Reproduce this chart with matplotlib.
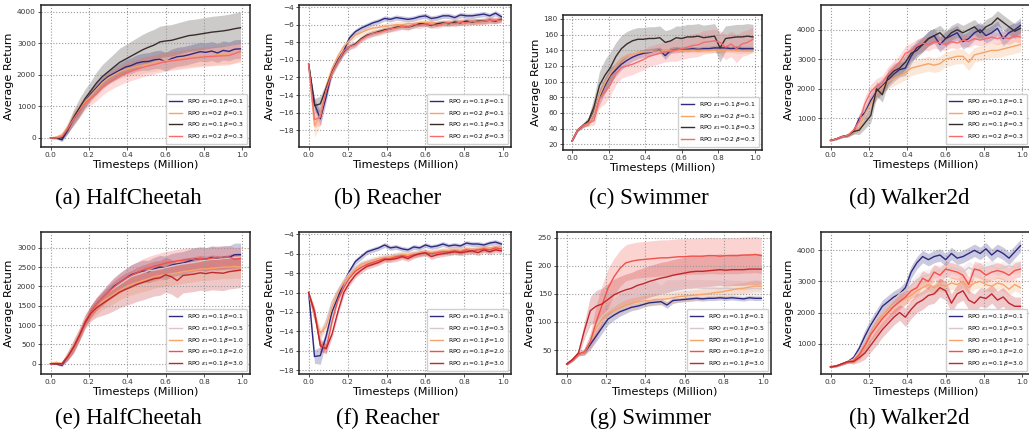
import numpy as np
import matplotlib
matplotlib.use('Agg')
import matplotlib.pyplot as plt

# timesteps (million), one point every 30k steps
steps = np.round(np.arange(34) * 0.03, 2)

labels_top = [r'RPO $\epsilon_1$=0.1 $\beta$=0.1', r'RPO $\epsilon_1$=0.2 $\beta$=0.1',
              r'RPO $\epsilon_1$=0.1 $\beta$=0.3', r'RPO $\epsilon_1$=0.2 $\beta$=0.3']
labels_bot = [r'RPO $\epsilon_1$=0.1 $\beta$=0.1', r'RPO $\epsilon_1$=0.1 $\beta$=0.5',
              r'RPO $\epsilon_1$=0.1 $\beta$=1.0', r'RPO $\epsilon_1$=0.1 $\beta$=2.0',
              r'RPO $\epsilon_1$=0.1 $\beta$=3.0']
colors_top = ['#2d2a80', '#f5a46a', '#3b2c2c', '#f86b6b']
colors_bot = ['#2d2a80', '#d9c6c9', '#f5a46a', '#f2504a', '#c0272d']

# (a) HalfCheetah
a_mean1 = [0, 0, -60, 250, 600, 850, 1150, 1400, 1600, 1800, 1950, 2050, 2150, 2250, 2300, 2380, 2420,
           2430, 2480, 2500, 2420, 2520, 2580, 2600, 2640, 2690, 2740, 2720, 2760, 2700, 2780, 2750, 2820, 2830]
a_mean2 = [0, 30, 100, 350, 650, 900, 1150, 1350, 1550, 1750, 1900, 2000, 2100, 2170, 2220, 2270, 2310,
           2350, 2380, 2420, 2450, 2470, 2500, 2520, 2550, 2570, 2580, 2600, 2610, 2640, 2650, 2660, 2680, 2700]
a_mean3 = [0, 0, 0, 300, 650, 950, 1250, 1500, 1750, 1950, 2100, 2250, 2400, 2500, 2600, 2700, 2800,
           2880, 2950, 3050, 3080, 3100, 3150, 3200, 3250, 3270, 3300, 3330, 3360, 3380, 3400, 3430, 3470, 3500]
a_mean4 = [0, 0, 50, 300, 600, 850, 1100, 1250, 1400, 1600, 1750, 1870, 1970, 2060, 2120, 2180, 2240,
           2290, 2330, 2380, 2420, 2450, 2470, 2490, 2520, 2540, 2560, 2580, 2590, 2600, 2610, 2620, 2680, 2750]
a_std1 = [20, 30, 60, 120, 150, 150, 150, 150, 170, 180, 200, 220, 230, 240, 250, 260, 270,
          280, 280, 290, 300, 300, 300, 300, 300, 300, 300, 300, 300, 300, 300, 300, 300, 300]
a_std2 = [20, 40, 80, 150, 200, 200, 200, 200, 200, 200, 200, 200, 220, 230, 240, 250, 260,
          260, 270, 270, 280, 280, 280, 280, 290, 290, 290, 300, 300, 300, 300, 300, 300, 300]
a_std3 = [20, 30, 50, 150, 250, 300, 300, 300, 350, 380, 400, 420, 450, 460, 470, 480, 490,
          500, 500, 500, 500, 500, 500, 500, 500, 500, 500, 500, 500, 500, 500, 500, 500, 500]
a_std4 = [20, 30, 60, 150, 200, 200, 200, 200, 220, 240, 260, 280, 290, 300, 300, 300, 300,
          300, 300, 300, 300, 300, 300, 300, 300, 300, 300, 300, 300, 300, 300, 300, 300, 300]

# (b) Reacher
b_mean1 = [-10.5, -15.0, -16.7, -14.2, -11.3, -10.0, -9.0, -7.5, -6.8, -6.4, -6.1, -5.8, -5.6, -5.3, -5.4, -5.2, -5.3,
           -5.4, -5.3, -5.1, -5.0, -5.3, -5.2, -5.0, -5.0, -5.2, -4.9, -5.0, -5.0, -4.9, -4.8, -5.0, -4.7, -5.1]
b_mean2 = [-10.5, -17.5, -16.3, -13.0, -11.0, -9.6, -8.5, -7.8, -7.2, -6.9, -6.6, -6.4, -6.3, -6.2, -6.1, -6.0, -6.0,
           -5.9, -5.9, -5.8, -5.8, -5.7, -5.9, -5.8, -5.7, -5.8, -5.6, -5.7, -5.6, -5.7, -5.6, -5.6, -5.5, -5.4]
b_mean3 = [-10.5, -15.2, -15.0, -13.2, -11.4, -10.2, -9.1, -8.5, -8.2, -7.6, -7.2, -7.0, -6.8, -6.6, -6.5, -6.3, -6.2,
           -6.3, -6.1, -5.9, -5.9, -6.1, -5.9, -5.8, -5.9, -5.7, -5.8, -5.6, -5.7, -5.6, -5.6, -5.5, -5.6, -5.4]
b_mean4 = [-10.5, -16.8, -16.5, -13.5, -11.5, -10.2, -9.0, -8.5, -8.3, -7.7, -7.3, -7.0, -6.9, -6.7, -6.5, -6.4, -6.2,
           -6.3, -6.0, -6.1, -5.9, -6.0, -6.1, -5.9, -5.8, -5.9, -5.7, -5.8, -5.6, -5.7, -5.6, -5.5, -5.5, -5.5]
b_std1 = [0.1, 0.6, 0.8, 0.6, 0.4, 0.4, 0.4, 0.4, 0.3, 0.3, 0.3, 0.3, 0.3, 0.3, 0.3, 0.3, 0.3,
          0.3, 0.3, 0.3, 0.3, 0.3, 0.3, 0.3, 0.3, 0.3, 0.3, 0.3, 0.3, 0.3, 0.3, 0.3, 0.3, 0.3]
b_std2 = [0.1, 1.3, 1.1, 0.6, 0.4, 0.4, 0.4, 0.4, 0.35, 0.35, 0.35, 0.35, 0.35, 0.35, 0.35, 0.35, 0.35,
          0.35, 0.35, 0.35, 0.35, 0.35, 0.35, 0.35, 0.35, 0.35, 0.35, 0.35, 0.35, 0.35, 0.35, 0.35, 0.35, 0.35]
b_std3 = [0.1, 0.8, 0.9, 0.6, 0.4, 0.4, 0.4, 0.3, 0.3, 0.3, 0.3, 0.3, 0.3, 0.3, 0.3, 0.3, 0.3,
          0.3, 0.3, 0.3, 0.3, 0.3, 0.3, 0.3, 0.3, 0.3, 0.3, 0.3, 0.3, 0.3, 0.3, 0.3, 0.3, 0.3]
b_std4 = [0.1, 0.9, 0.9, 0.6, 0.4, 0.4, 0.4, 0.4, 0.35, 0.35, 0.35, 0.35, 0.35, 0.35, 0.35, 0.35, 0.35,
          0.35, 0.35, 0.35, 0.35, 0.35, 0.35, 0.35, 0.35, 0.35, 0.35, 0.35, 0.35, 0.35, 0.35, 0.35, 0.35, 0.35]

# (c) Swimmer
c_mean1 = [24, 38, 44, 47, 62, 80, 95, 108, 115, 122, 127, 131, 134, 136, 137, 139, 140,
           133, 140, 141, 141, 141, 142, 141, 142, 142, 143, 143, 143, 142, 143, 142, 142, 142]
c_mean2 = [24, 38, 44, 46, 60, 82, 98, 110, 120, 128, 133, 135, 137, 138, 138, 139, 139,
           139, 140, 140, 140, 140, 140, 140, 140, 140, 140, 140, 140, 140, 139, 139, 139, 139]
c_mean3 = [24, 38, 44, 50, 68, 95, 108, 118, 132, 142, 148, 152, 154, 154, 155, 155, 156,
           150, 152, 156, 155, 157, 157, 158, 156, 157, 158, 143, 155, 156, 157, 157, 158, 157]
c_mean4 = [24, 38, 44, 47, 50, 78, 86, 96, 110, 118, 120, 122, 125, 128, 132, 134, 136,
           138, 139, 140, 142, 144, 146, 147, 150, 151, 152, 150, 144, 148, 142, 148, 150, 154]
c_std1 = [1, 2, 2, 3, 8, 10, 10, 10, 8, 7, 6, 5, 5, 5, 5, 4, 4, 5, 4, 4, 3, 3, 3, 3, 3, 3, 3, 3, 3, 3, 3, 3, 3, 3]
c_std2 = [1, 2, 2, 3, 6, 8, 8, 6, 5, 4, 3, 3, 3, 3, 3, 3, 3, 3, 3, 3, 3, 3, 3, 3, 3, 3, 3, 3, 3, 3, 3, 3, 3, 3]
c_std3 = [1, 2, 3, 5, 12, 18, 20, 20, 18, 17, 16, 15, 15, 15, 15, 15, 15,
          15, 15, 15, 16, 16, 16, 16, 16, 16, 16, 18, 16, 16, 16, 16, 16, 16]
c_std4 = [1, 2, 3, 4, 6, 12, 14, 14, 14, 14, 13, 13, 13, 13, 13, 13, 13,
          13, 13, 14, 14, 14, 15, 15, 15, 15, 15, 15, 16, 16, 18, 16, 16, 16]

# (d) Walker2d
d_mean1 = [250, 300, 380, 420, 550, 1000, 1200, 1600, 1900, 2100, 2300, 2500, 2650, 2700, 3100, 3400, 3500,
           3700, 3800, 3500, 3700, 3800, 3900, 3600, 3700, 3900, 4000, 3800, 3900, 4050, 3700, 3900, 4000, 4150]
d_mean2 = [250, 300, 380, 420, 520, 700, 1150, 1500, 1850, 2050, 2250, 2350, 2450, 2550, 2700, 2750, 2800,
           2850, 2800, 2850, 3000, 3050, 3100, 3100, 2900, 3150, 3200, 3250, 3300, 3300, 3350, 3400, 3450, 3500]
d_mean3 = [250, 300, 380, 420, 550, 600, 850, 1100, 2000, 1800, 2400, 2600, 2700, 2900, 3200, 3300, 3500,
           3700, 3800, 3900, 3700, 3900, 4000, 3900, 4000, 4100, 3900, 4100, 4200, 4400, 4250, 4100, 3950, 4050]
d_mean4 = [250, 300, 380, 420, 600, 900, 1500, 1900, 2100, 2200, 2500, 2700, 2900, 3200, 3300, 3450, 3550,
           3500, 3600, 3550, 3500, 3600, 3550, 3650, 3600, 3700, 3650, 3700, 3750, 3700, 3750, 3700, 3800, 3750]
d_std1 = [20, 30, 40, 50, 80, 150, 200, 250, 250, 250, 250, 250, 250, 250, 250, 250, 250,
          250, 250, 250, 250, 250, 250, 250, 250, 250, 250, 250, 250, 250, 250, 250, 250, 250]
d_std2 = [20, 30, 40, 50, 80, 150, 200, 250, 250, 250, 250, 250, 250, 250, 250, 250, 250,
          250, 250, 250, 250, 250, 250, 250, 280, 250, 250, 250, 250, 250, 250, 250, 250, 250]
d_std3 = [20, 30, 40, 50, 80, 150, 200, 250, 250, 250, 250, 250, 250, 250, 250, 250, 250,
          250, 250, 250, 250, 250, 250, 250, 250, 250, 250, 250, 250, 250, 250, 250, 250, 250]
d_std4 = [20, 30, 40, 60, 100, 200, 250, 250, 250, 250, 250, 250, 250, 250, 250, 230, 220,
          220, 220, 220, 200, 200, 200, 200, 200, 200, 200, 200, 200, 200, 200, 200, 200, 200]

# (e) HalfCheetah, beta sweep
e_mean1 = [0, -10, -40, 200, 450, 750, 1100, 1350, 1550, 1700, 1850, 2000, 2100, 2200, 2300, 2350, 2400,
           2380, 2450, 2500, 2480, 2550, 2580, 2600, 2650, 2700, 2720, 2700, 2750, 2720, 2750, 2750, 2820, 2820]
e_mean2 = [0, 20, 0, 250, 500, 800, 1150, 1350, 1550, 1700, 1850, 1950, 2050, 2150, 2250, 2300, 2350,
           2400, 2420, 2450, 2480, 2520, 2550, 2580, 2600, 2620, 2650, 2680, 2700, 2700, 2720, 2730, 2750, 2760]
e_mean3 = [0, 40, 0, 200, 450, 750, 1100, 1300, 1450, 1600, 1700, 1800, 1900, 1980, 2050, 2100, 2150,
           2200, 2250, 2280, 2300, 2330, 2350, 2380, 2400, 2420, 2450, 2450, 2470, 2480, 2500, 2500, 2520, 2500]
e_mean4 = [0, 0, 0, 200, 450, 750, 1100, 1350, 1550, 1700, 1850, 1980, 2100, 2200, 2280, 2350, 2420,
           2470, 2520, 2560, 2600, 2630, 2660, 2680, 2700, 2700, 2720, 2700, 2730, 2750, 2740, 2760, 2700, 2720]
e_mean5 = [0, 0, 0, 180, 420, 720, 1050, 1300, 1450, 1550, 1650, 1750, 1850, 1920, 1980, 2050, 2100,
           2150, 2200, 2220, 2300, 2250, 2150, 2280, 2300, 2320, 2350, 2330, 2360, 2350, 2340, 2380, 2400, 2420]
e_std1 = [10, 20, 40, 100, 150, 150, 150, 150, 150, 170, 200, 220, 240, 250, 260, 270, 280,
          290, 300, 300, 300, 300, 300, 300, 300, 300, 300, 300, 300, 300, 300, 300, 300, 300]
e_std2 = [10, 20, 40, 100, 150, 150, 150, 150, 160, 180, 200, 220, 240, 250, 260, 270, 280,
          290, 300, 300, 300, 300, 300, 300, 300, 300, 300, 300, 300, 300, 300, 300, 300, 300]
e_std3 = [10, 20, 40, 100, 150, 150, 150, 160, 180, 200, 220, 240, 250, 260, 270, 280, 290,
          300, 300, 300, 300, 300, 300, 300, 300, 300, 300, 300, 300, 300, 300, 300, 300, 300]
e_std4 = [10, 20, 40, 100, 150, 150, 150, 160, 180, 200, 220, 240, 250, 260, 270, 280, 290,
          300, 300, 300, 300, 300, 300, 300, 300, 300, 300, 300, 300, 300, 300, 300, 300, 300]
e_std5 = [10, 20, 40, 100, 150, 150, 150, 200, 250, 300, 350, 380, 400, 420, 430, 440, 450,
          450, 450, 450, 450, 450, 450, 450, 450, 450, 450, 450, 450, 450, 450, 450, 450, 450]

# (f) Reacher, beta sweep
f_mean1 = [-10.0, -16.6, -16.5, -14.5, -12.0, -10.5, -9.0, -7.8, -6.8, -6.3, -5.8, -5.6, -5.4, -5.1, -5.4, -5.3, -5.5,
           -5.6, -5.3, -5.4, -5.1, -5.3, -5.2, -5.0, -5.2, -5.1, -5.2, -4.9, -5.0, -5.0, -5.1, -4.9, -4.8, -5.0]
f_mean2 = [-10.0, -12.5, -14.5, -13.0, -11.0, -9.8, -8.8, -8.0, -7.4, -7.0, -6.8, -6.6, -6.5, -6.3, -6.3, -6.1, -6.0,
           -6.1, -5.9, -5.9, -5.8, -5.9, -5.8, -5.7, -5.7, -5.6, -5.7, -5.6, -5.6, -5.5, -5.5, -5.6, -5.4, -5.5]
f_mean3 = [-10.0, -12.5, -14.2, -13.5, -11.5, -10.0, -9.0, -8.2, -7.6, -7.1, -6.9, -6.7, -6.5, -6.4, -6.3, -6.2, -6.1,
           -6.1, -6.0, -5.9, -5.8, -5.9, -5.8, -5.7, -5.7, -5.6, -5.7, -5.5, -5.6, -5.5, -5.5, -5.4, -5.3, -5.4]
f_mean4 = [-10.0, -12.0, -15.3, -15.8, -13.0, -10.8, -9.5, -8.5, -7.8, -7.4, -7.1, -6.9, -6.7, -6.5, -6.5, -6.3, -6.2,
           -6.3, -6.1, -6.0, -5.9, -6.0, -5.9, -5.8, -5.8, -5.7, -5.8, -5.6, -5.7, -5.6, -5.5, -5.6, -5.4, -5.5]
f_mean5 = [-10.0, -12.0, -15.5, -15.8, -14.3, -12.0, -10.0, -9.0, -8.2, -7.7, -7.3, -7.1, -6.9, -6.6, -6.6, -6.5, -6.3,
           -6.5, -6.2, -6.0, -5.9, -6.3, -6.1, -6.0, -5.9, -5.8, -5.9, -5.8, -5.7, -5.9, -5.6, -5.8, -5.6, -5.7]
f_std1 = [0.1, 0.7, 0.9, 0.6, 0.4, 0.4, 0.4, 0.3, 0.3, 0.3, 0.25, 0.25, 0.25, 0.25, 0.25, 0.25, 0.25,
          0.25, 0.25, 0.25, 0.25, 0.25, 0.25, 0.25, 0.25, 0.25, 0.25, 0.25, 0.25, 0.25, 0.25, 0.25, 0.25, 0.25]
f_std2 = [0.1, 0.5, 0.6, 0.5, 0.4, 0.4, 0.35, 0.3, 0.3, 0.3, 0.3, 0.3, 0.3, 0.3, 0.3, 0.3, 0.3,
          0.3, 0.3, 0.3, 0.3, 0.3, 0.3, 0.3, 0.3, 0.3, 0.3, 0.3, 0.3, 0.3, 0.3, 0.3, 0.3, 0.3]
f_std3 = [0.1, 0.5, 0.6, 0.5, 0.4, 0.4, 0.35, 0.3, 0.3, 0.3, 0.3, 0.3, 0.3, 0.3, 0.3, 0.3, 0.3,
          0.3, 0.3, 0.3, 0.3, 0.3, 0.3, 0.3, 0.3, 0.3, 0.3, 0.3, 0.3, 0.3, 0.3, 0.3, 0.3, 0.3]
f_std4 = [0.1, 0.5, 0.6, 0.5, 0.4, 0.4, 0.35, 0.3, 0.3, 0.3, 0.3, 0.3, 0.3, 0.3, 0.3, 0.3, 0.3,
          0.3, 0.3, 0.3, 0.3, 0.3, 0.3, 0.3, 0.3, 0.3, 0.3, 0.3, 0.3, 0.3, 0.3, 0.3, 0.3, 0.3]
f_std5 = [0.1, 0.5, 0.6, 0.5, 0.4, 0.4, 0.35, 0.3, 0.3, 0.3, 0.3, 0.3, 0.3, 0.3, 0.3, 0.3, 0.3,
          0.3, 0.3, 0.3, 0.3, 0.3, 0.3, 0.3, 0.3, 0.3, 0.3, 0.3, 0.3, 0.3, 0.3, 0.3, 0.3, 0.3]

# (g) Swimmer, beta sweep
g_mean1 = [25, 33, 43, 45, 60, 75, 90, 105, 112, 118, 122, 126, 128, 131, 134, 135, 136,
           130, 138, 139, 140, 141, 142, 141, 142, 142, 143, 142, 143, 142, 141, 143, 142, 142]
g_mean2 = [25, 33, 43, 48, 70, 95, 110, 120, 128, 135, 140, 145, 150, 153, 156, 158, 150,
           160, 160, 160, 161, 160, 161, 160, 160, 160, 159, 160, 159, 159, 158, 159, 160, 159]
g_mean3 = [25, 33, 43, 45, 65, 90, 105, 115, 120, 125, 130, 133, 135, 137, 138, 140, 140,
           141, 143, 145, 146, 147, 148, 149, 150, 152, 153, 155, 157, 159, 160, 162, 164, 163]
g_mean4 = [25, 33, 43, 47, 65, 100, 130, 160, 180, 195, 205, 208, 210, 211, 212, 213, 214,
           214, 215, 216, 216, 217, 217, 217, 218, 218, 217, 218, 218, 218, 219, 219, 220, 218]
g_mean5 = [25, 33, 45, 85, 120, 128, 132, 140, 148, 153, 157, 160, 165, 168, 172, 175, 178,
           180, 183, 185, 187, 189, 190, 190, 191, 192, 193, 192, 193, 193, 193, 194, 194, 194]
g_std1 = [2, 3, 3, 4, 8, 10, 10, 10, 9, 8, 7, 6, 6, 5, 5, 5, 5, 6, 5, 4, 4, 4, 4, 4, 4, 4, 4, 4, 4, 4, 4, 4, 4, 4]
g_std2 = [2, 3, 3, 5, 10, 15, 15, 15, 15, 15, 15, 15, 15, 15, 15, 15, 15,
          15, 15, 15, 15, 15, 15, 15, 15, 15, 15, 15, 15, 15, 15, 15, 15, 15]
g_std3 = [2, 3, 3, 4, 8, 10, 10, 10, 10, 10, 10, 10, 10, 10, 10, 10, 10,
          10, 10, 10, 10, 10, 10, 10, 10, 10, 10, 10, 10, 10, 10, 10, 10, 10]
g_std4 = [2, 3, 4, 6, 15, 30, 35, 35, 33, 32, 32, 32, 32, 32, 32, 32, 32,
          32, 32, 32, 32, 32, 32, 32, 32, 32, 32, 32, 32, 32, 32, 32, 32, 32]
g_std5 = [2, 3, 5, 15, 25, 28, 28, 28, 28, 28, 28, 28, 28, 28, 28, 28, 28,
          28, 28, 28, 28, 28, 28, 28, 28, 28, 28, 28, 28, 28, 28, 28, 28, 28]

# (h) Walker2d, beta sweep
h_mean1 = [250, 280, 350, 420, 550, 850, 1250, 1600, 1900, 2200, 2350, 2500, 2600, 2800, 3300, 3600, 3800,
           3700, 3800, 3850, 3700, 3900, 3750, 3800, 3900, 4000, 3900, 4050, 3850, 4000, 3900, 3750, 3950, 4150]
h_mean2 = [250, 280, 350, 420, 500, 750, 1100, 1500, 1800, 2000, 2200, 2400, 2600, 2700, 2850, 3050, 3150,
           3200, 3300, 3350, 3300, 3450, 3400, 3300, 3450, 3350, 3400, 3450, 3500, 3400, 3450, 3500, 3450, 3500]
h_mean3 = [250, 280, 350, 420, 480, 650, 900, 1300, 1600, 1900, 2100, 2200, 2350, 2450, 2550, 2700, 2800,
           2900, 2800, 2900, 2850, 2950, 2900, 3000, 2800, 2950, 3000, 2900, 2850, 2950, 2900, 2750, 2900, 2800]
h_mean4 = [250, 280, 350, 420, 450, 650, 950, 1300, 1550, 1800, 2000, 2200, 2350, 2500, 2700, 2800, 3100,
           3000, 3300, 3200, 3400, 3350, 3300, 3200, 2900, 3400, 3350, 3200, 3300, 3350, 3300, 3200, 3350, 3400]
h_mean5 = [250, 280, 350, 420, 420, 550, 700, 950, 1200, 1450, 1650, 1850, 2000, 1850, 2100, 2300, 2400,
           2550, 2600, 2800, 2700, 2300, 2600, 2700, 2400, 2300, 2500, 2450, 2600, 2400, 2500, 2300, 2200, 2200]
h_std1 = [20, 30, 40, 50, 80, 150, 200, 200, 200, 200, 200, 200, 200, 200, 200, 200, 200,
          200, 200, 200, 200, 200, 200, 200, 200, 200, 200, 200, 200, 200, 200, 200, 200, 200]
h_std2 = [20, 30, 40, 50, 80, 150, 200, 200, 200, 200, 200, 200, 200, 200, 200, 200, 200,
          200, 200, 200, 200, 200, 200, 200, 200, 200, 200, 200, 200, 200, 200, 200, 200, 200]
h_std3 = [20, 30, 40, 50, 80, 150, 200, 200, 200, 200, 200, 200, 200, 200, 200, 200, 200,
          200, 200, 200, 200, 200, 200, 200, 200, 200, 200, 200, 200, 200, 200, 200, 200, 200]
h_std4 = [20, 30, 40, 50, 80, 150, 200, 220, 250, 250, 250, 250, 250, 250, 250, 250, 250,
          250, 250, 250, 250, 250, 250, 250, 250, 250, 250, 250, 250, 250, 250, 250, 250, 250]
h_std5 = [20, 30, 40, 50, 80, 150, 200, 220, 250, 250, 250, 250, 250, 300, 300, 300, 300,
          300, 300, 300, 300, 300, 300, 300, 300, 300, 300, 300, 300, 300, 300, 300, 300, 300]

panels = [
    ('(a) HalfCheetah', [a_mean1, a_mean2, a_mean3, a_mean4], [a_std1, a_std2, a_std3, a_std4],
     (-286, 4222), [0, 1000, 2000, 3000, 4000]),
    ('(b) Reacher', [b_mean1, b_mean2, b_mean3, b_mean4], [b_std1, b_std2, b_std3, b_std4],
     (-19.9, -3.77), [-18, -16, -14, -12, -10, -8, -6, -4]),
    ('(c) Swimmer', [c_mean1, c_mean2, c_mean3, c_mean4], [c_std1, c_std2, c_std3, c_std4],
     (12.6, 185), [20, 40, 60, 80, 100, 120, 140, 160, 180]),
    ('(d) Walker2d', [d_mean1, d_mean2, d_mean3, d_mean4], [d_std1, d_std2, d_std3, d_std4],
     (27, 4840), [1000, 2000, 3000, 4000]),
    ('(e) HalfCheetah', [e_mean1, e_mean2, e_mean3, e_mean4, e_mean5], [e_std1, e_std2, e_std3, e_std4, e_std5],
     (-266, 3406), [0, 500, 1000, 1500, 2000, 2500, 3000]),
    ('(f) Reacher', [f_mean1, f_mean2, f_mean3, f_mean4, f_mean5], [f_std1, f_std2, f_std3, f_std4, f_std5],
     (-18.4, -3.76), [-18, -16, -14, -12, -10, -8, -6, -4]),
    ('(g) Swimmer', [g_mean1, g_mean2, g_mean3, g_mean4, g_mean5], [g_std1, g_std2, g_std3, g_std4, g_std5],
     (7.3, 260), [50, 100, 150, 200, 250]),
    ('(h) Walker2d', [h_mean1, h_mean2, h_mean3, h_mean4, h_mean5], [h_std1, h_std2, h_std3, h_std4, h_std5],
     (23, 4590), [1000, 2000, 3000, 4000]),
]

W, H = 1029, 436
# axes boxes in pixels: left, top, right, bottom
boxes = [(41, 5, 250, 147), (299, 5, 511, 147), (563, 15, 762, 150), (821, 5, 1030, 147),
         (41, 232, 250, 374), (299, 232, 511, 374), (557, 232, 771, 374), (821, 232, 1030, 374)]
title_x = [128, 388, 649, 909, 128, 388, 650, 909]
title_y = [198, 198, 198, 198, 418, 418, 418, 418]

fig = plt.figure(figsize=(W / 100, H / 100), dpi=100)

for i, (title, means, stds, ylim, yticks) in enumerate(panels):
    l, t, r, b = boxes[i]
    ax = fig.add_axes([l / W, 1 - b / H, (r - l) / W, (b - t) / H])
    cols = colors_top if i < 4 else colors_bot
    labs = labels_top if i < 4 else labels_bot
    for m, s, c, lab in zip(means, stds, cols, labs):
        m = np.array(m, dtype=float)
        s = np.array(s, dtype=float)
        ax.fill_between(steps, m - s, m + s, color=c, alpha=0.25, lw=0)
        ax.plot(steps, m, color=c, lw=1.0, label=lab)
    ax.set_ylim(*ylim)
    ax.set_yticks(yticks)
    ax.set_xticks([0.0, 0.2, 0.4, 0.6, 0.8, 1.0])
    ax.set_xlim(-0.0495, 1.0395)
    ax.grid(True, ls=':', color='#9a9a9a', lw=0.8)
    ax.tick_params(labelsize=5.3, length=2.2, width=0.6, colors='#333333', pad=1.5)
    for sp in ax.spines.values():
        sp.set_linewidth(1.1)
        sp.set_color('#222222')
    ax.set_xlabel('Timesteps (Million)', fontsize=8.1, labelpad=1)
    ax.set_ylabel('Average Return', fontsize=8.1, labelpad=2)
    ax.legend(loc='lower right', fontsize=4.3, handlelength=2.2, labelspacing=0.45,
              borderpad=0.5, framealpha=0.9)
    fig.text(title_x[i] / W, 1 - title_y[i] / H, title, ha='center', va='center',
             fontsize=16.5, family='Liberation Serif')

fig.savefig('out.png', dpi=100)
plt.close(fig)
